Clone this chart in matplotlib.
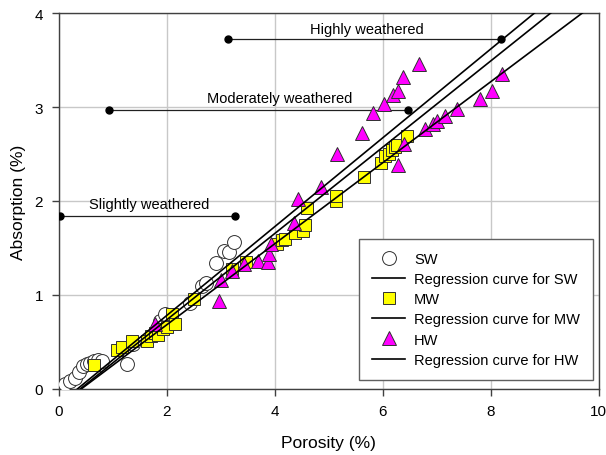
import numpy as np
import matplotlib.pyplot as plt

plt.rcParams['font.family'] = ['Liberation Sans', 'DejaVu Sans']

# slightly weathered samples
sw_por = [0.12, 0.22, 0.31, 0.38, 0.45, 0.52, 0.58, 0.65, 0.74, 0.80, 1.26, 1.38,
          1.88, 1.97, 2.44, 2.65, 2.74, 2.92, 3.06, 3.16, 3.25]
sw_abs = [0.05, 0.08, 0.12, 0.18, 0.25, 0.27, 0.28, 0.30, 0.31, 0.30, 0.27, 0.48,
          0.72, 0.80, 0.92, 1.10, 1.13, 1.34, 1.47, 1.46, 1.56]

# moderately weathered samples
mw_por = [0.66, 1.09, 1.17, 1.36, 1.63, 1.72, 1.79, 1.85, 1.94, 2.00, 2.10, 2.16,
          2.50, 3.22, 3.48, 4.05, 4.13, 4.20, 4.38, 4.53, 4.56, 4.60, 5.14, 5.14,
          5.65, 5.98, 6.05, 6.12, 6.18, 6.23, 6.27, 6.45]
mw_abs = [0.26, 0.41, 0.45, 0.51, 0.51, 0.56, 0.60, 0.57, 0.64, 0.66, 0.80, 0.69,
          0.96, 1.28, 1.35, 1.54, 1.58, 1.60, 1.66, 1.68, 1.75, 1.93, 2.00, 2.05,
          2.26, 2.40, 2.48, 2.50, 2.54, 2.57, 2.60, 2.69]

# highly weathered samples
hw_por = [1.78, 2.98, 3.00, 3.22, 3.43, 3.70, 3.88, 3.89, 3.93, 4.37, 4.44, 4.87,
          5.15, 5.62, 5.83, 6.03, 6.20, 6.29, 6.38, 6.68, 6.28, 6.39, 6.79, 6.94,
          7.00, 7.16, 7.38, 7.81, 8.02, 8.21]
hw_abs = [0.69, 0.94, 1.16, 1.26, 1.33, 1.36, 1.35, 1.44, 1.54, 1.77, 2.02, 2.15,
          2.50, 2.72, 2.94, 3.03, 3.13, 3.17, 3.32, 3.46, 2.38, 2.61, 2.77, 2.82,
          2.85, 2.90, 2.98, 3.08, 3.17, 3.35]

# regression fits: absorption = slope * porosity + intercept
fits = {'SW': (0.4725, -0.165), 'MW': (0.459, -0.184), 'HW': (0.431, -0.181)}

# weathering class ranges (label, left end, right end, level, text x, text y)
ranges = [('Slightly weathered', 0.02, 3.26, 1.84, 1.68, 1.97),
          ('Moderately weathered', 0.94, 6.48, 2.97, 4.10, 3.10),
          ('Highly weathered', 3.13, 8.20, 3.72, 5.71, 3.83)]

fig = plt.figure(figsize=(6.06, 4.56), dpi=100)
ax = fig.add_axes([58.5/606, 1-390/456, 540/606, 376/456])

ax.grid(True, color='#c8c8c8', lw=1)
ax.set_axisbelow(True)

for lbl, x0, x1, yv, tx, ty in ranges:
    ax.plot([x0, x1], [yv, yv], '-', color='#202020', lw=0.9,
            marker='o', ms=5, mfc='black', mec='black', zorder=3)
    ax.text(tx, ty, lbl, ha='center', va='center', fontsize=10.5, zorder=4)

xs = np.linspace(0, 10, 50)
kw = dict(ls='none', mec='#303030', mew=0.7, zorder=4)
h_sw, = ax.plot(sw_por, sw_abs, marker='o', ms=10, mfc='white', label='SW', **kw)
l_sw, = ax.plot(xs, fits['SW'][0]*xs + fits['SW'][1], color='black', lw=1.2,
                label='Regression curve for SW', zorder=5)
h_mw, = ax.plot(mw_por, mw_abs, marker='s', ms=9, mfc='#ffff00', label='MW', **kw)
l_mw, = ax.plot(xs, fits['MW'][0]*xs + fits['MW'][1], color='black', lw=1.2,
                label='Regression curve for MW', zorder=5)
h_hw, = ax.plot(hw_por, hw_abs, marker='^', ms=10, mfc='#ff00ff', label='HW', **kw)
l_hw, = ax.plot(xs, fits['HW'][0]*xs + fits['HW'][1], color='black', lw=1.2,
                label='Regression curve for HW', zorder=5)

ax.set_xlim(0, 10)
ax.set_ylim(0, 4)
ax.set_xticks(range(0, 11, 2))
ax.set_yticks(range(0, 5))
ax.tick_params(direction='out', length=5, width=1, color='#404040',
               labelsize=11, pad=6)
for s in ax.spines.values():
    s.set_color('#404040')
    s.set_linewidth(1)

ax.set_xlabel('Porosity (%)', fontsize=12.5, labelpad=12)
ax.set_ylabel('Absorption (%)', fontsize=12.5, labelpad=6)

leg = ax.legend(handles=[h_sw, l_sw, h_mw, l_mw, h_hw, l_hw],
                loc='upper left', bbox_to_anchor=(0.556, 0.399),
                borderaxespad=0, fontsize=10.5, fancybox=False,
                framealpha=1, edgecolor='#606060', handlelength=2.3,
                handletextpad=0.6, labelspacing=0.42, borderpad=0.9)
leg.get_frame().set_linewidth(1)
leg.set_zorder(10)

fig.savefig('out.png', dpi=100)
